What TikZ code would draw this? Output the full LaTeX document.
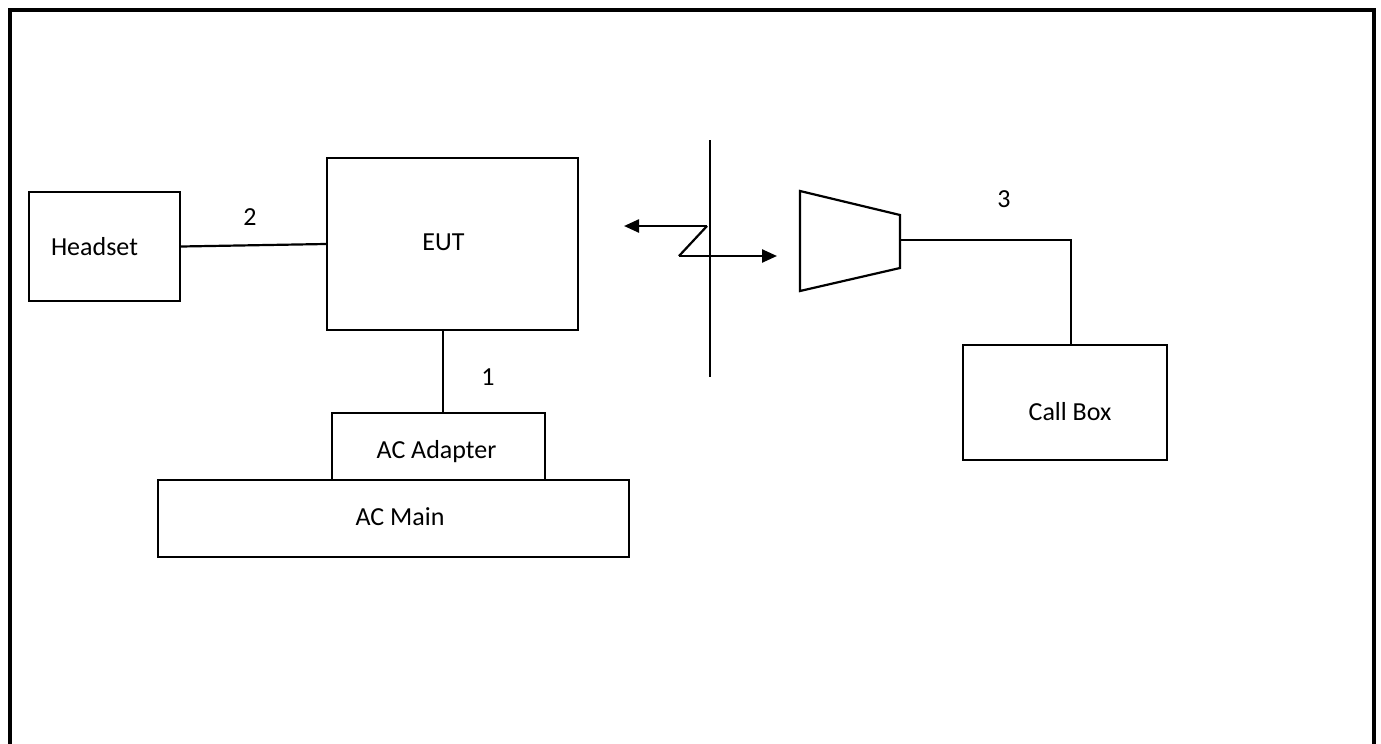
\documentclass[tikz,border=0pt]{standalone}
\usepackage{fontspec}
\setmainfont{Carlito}
\usetikzlibrary{arrows.meta}
\begin{document}
\begin{tikzpicture}[x=1pt,y=-1pt,
  box/.style={draw,line width=2.2pt,inner sep=0pt},
  lbl/.style={inner sep=0pt,anchor=base,font=\fontsize{26}{30}\selectfont},
  wire/.style={line width=2.2pt},
  arr/.style={line width=2.4pt,-{Triangle[length=15pt,width=13pt]}}]
\useasboundingbox (0,0) rectangle (1381,744);
% frame
\draw[line width=4pt] (9.5,744) -- (9.5,9.5) -- (1373.5,9.5) -- (1373.5,744);
% boxes
\node[box,minimum width=151pt,minimum height=109pt] (hs) at (104.5,246.5) {};
\node[lbl] (hst) at (94.5,255) {Headset};
\node[box,minimum width=251pt,minimum height=172pt] (eut) at (452.5,244) {};
\node[lbl] (eutt) at (443.5,250) {EUT};
\node[box,minimum width=213pt,minimum height=67pt] (ad) at (438.5,446.5) {};
\node[lbl] (adt) at (436.5,458) {AC Adapter};
\node[box,minimum width=471pt,minimum height=77pt] (acm) at (393.5,518.5) {};
\node[lbl] (acmt) at (400,525) {AC Main};
\node[box,minimum width=204pt,minimum height=115pt] (cb) at (1065,402.5) {};
\node[lbl] (cbt) at (1070,420) {Call Box};
% labels
\node[lbl] (l2) at (250,225) {2};
\node[lbl] (l1) at (488,385) {1};
\node[lbl] (l3) at (1004,207) {3};
% connectors
\draw[wire] (hs.east) -- (eut.west);
\coordinate (x1) at (443,0);
\draw[wire] (x1 |- eut.south) -- (x1 |- ad.north);
% vertical divider
\coordinate (vt) at (710,140);
\coordinate (vb) at (710,377);
\draw[wire] (vt) -- (vb);
% lightning arrows
\coordinate (z1) at (707,226);
\coordinate (z2) at (679,256);
\coordinate (lt) at (624,226);
\coordinate (rt) at (777,256);
\draw[arr] (z1) -- (lt);
\draw[wire,line join=miter] (z1) -- (z2);
\draw[arr] (z2) -- (rt);
% antenna trapezoid
\coordinate (t1) at (800,191);
\coordinate (t2) at (900,215);
\coordinate (t3) at (900,268);
\coordinate (t4) at (800,291);
\coordinate (tm) at (900,240);
\draw[wire,line join=miter] (t1) -- (t2) -- (t3) -- (t4) -- cycle;
\coordinate (corner) at (1071,240);
\draw[wire] (tm) -- (corner) -- (corner |- cb.north);
\end{tikzpicture}
\end{document}
